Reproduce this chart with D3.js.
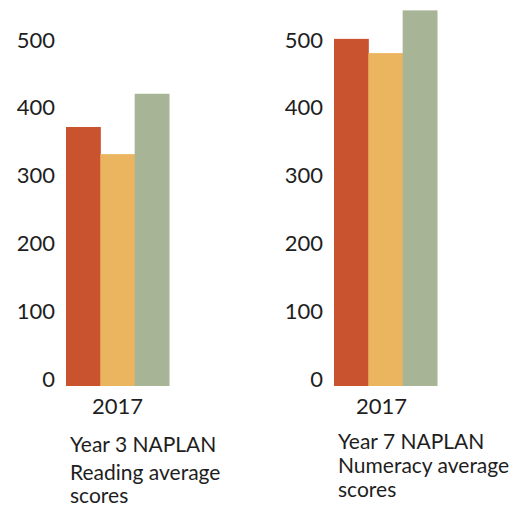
<!DOCTYPE html>
<html>
<head>
<meta charset="utf-8">
<script src="https://cdn.jsdelivr.net/npm/d3@7"></script>
<style>
  html, body { margin: 0; padding: 0; background: #fff; }
  svg { display: block; }
  text { font-family: Lato, "Open Sans", sans-serif; fill: #1e1e1e; }
</style>
</head>
<body>
<svg id="chart" width="529" height="506"></svg>
<script>
// Average NAPLAN scores, 2017
const years = ["2017"];
const seriesKeys = ["school", "state", "national"];
const seriesColors = ["#c8532e", "#ebb55f", "#a8b496"];
const readingScores = [382, 342, 431];
const numeracyScores = [512, 491, 554];
const yTicks = [0, 100, 200, 300, 400, 500];
const readingTitle = ["Year 3 NAPLAN", "Reading average", "scores"];
const numeracyTitle = ["Year 7 NAPLAN", "Numeracy average", "scores"];

const svg = d3.select("#chart");

const y = d3.scaleLinear().domain([0, 500]).range([386, 47]);
const color = d3.scaleOrdinal().domain(seriesKeys).range(seriesColors);

function drawPanel(offsetX, values, titleLines, lineYs, yearShift) {
  const g = svg.append("g").attr("transform", `translate(${offsetX},0)`);

  const x0 = d3.scaleBand().domain(years).range([66, 169]).padding(0);
  const x1 = d3.scaleBand().domain(seriesKeys).range([0, x0.bandwidth()]).padding(0);

  // value axis: labels only, baseline sitting on the tick
  const axis = g.append("g")
    .attr("transform", "translate(55,0)")
    .call(d3.axisLeft(y).tickValues(yTicks).tickSize(0).tickPadding(0));
  axis.select(".domain").remove();
  axis.selectAll("text")
    .attr("dy", 0)
    .attr("x", 0)
    .style("font-family", "Lato, sans-serif")
    .style("font-size", "22px")
    .style("fill", "#1e1e1e");

  const rows = years.map(yr => seriesKeys.map((k, i) => ({ year: yr, key: k, value: values[i] })));

  const groups = g.selectAll("g.year")
    .data(rows)
    .join("g")
    .attr("class", "year")
    .attr("transform", (d, i) => `translate(${x0(years[i])},0)`);

  groups.selectAll("rect")
    .data(d => d)
    .join("rect")
    .attr("x", d => x1(d.key))
    .attr("width", x1.bandwidth() + 0.5)
    .attr("y", d => y(d.value))
    .attr("height", d => y(0) - y(d.value))
    .attr("fill", d => color(d.key));

  // category axis label
  g.selectAll("text.year-label")
    .data(years)
    .join("text")
    .attr("class", "year-label")
    .attr("x", d => x0(d) + x0.bandwidth() / 2 + yearShift)
    .attr("y", 414)
    .attr("text-anchor", "middle")
    .style("font-size", "22px")
    .text(d => d);

  // panel title
  g.append("text")
    .style("font-size", "21px")
    .selectAll("tspan")
    .data(titleLines)
    .join("tspan")
    .attr("x", 70)
    .attr("y", (d, i) => lineYs[i])
    .text(d => d);
}

drawPanel(0, readingScores, readingTitle, [452, 480, 503], 0);
drawPanel(268, numeracyScores, numeracyTitle, [449, 473, 497], -4);
</script>
</body>
</html>
